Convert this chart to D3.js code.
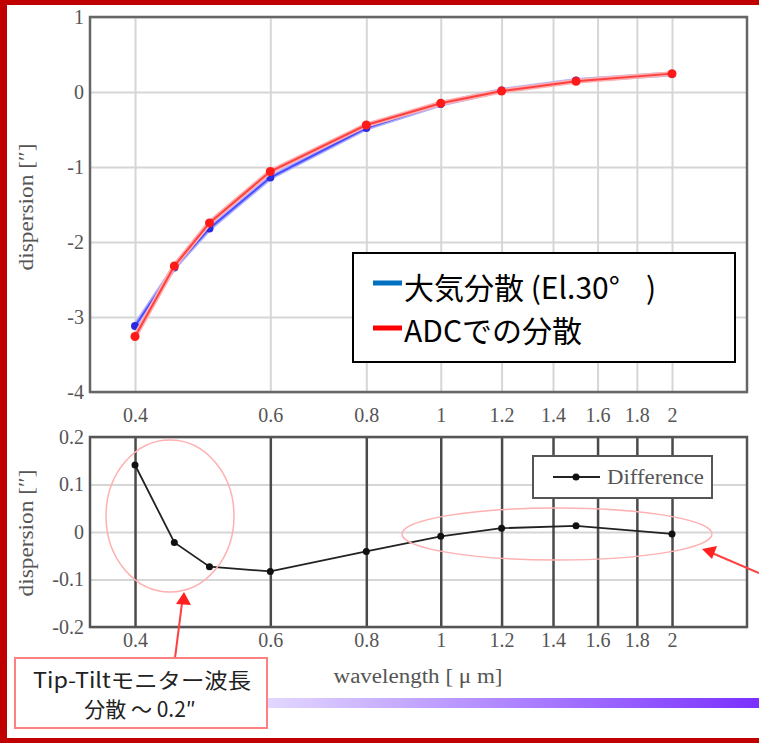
<!DOCTYPE html>
<html lang="ja">
<head>
<meta charset="UTF-8">
<title>dispersion</title>
<script src="https://d3js.org/d3.v7.min.js"></script>
<style>
    body { margin: 0; background: #fff; }
    .tick text { font-family: "Liberation Serif", serif; font-size: 20px; fill: #555; }
    .axis path { display: none; }
</style>
</head>
<body>
<svg width="759" height="743"></svg>
<script>
    // wavelength [um]
    var wavelengths = [0.4, 0.45, 0.5, 0.6, 0.8, 1.0, 1.2, 1.5, 2.0];
    // atmospheric dispersion at El.30 deg ["]
    var atmosphere = [-3.12, -2.34, -1.82, -1.14, -0.48, -0.16, 0.02, 0.155, 0.24];
    // dispersion produced by the ADC ["]
    var adc = [-3.26, -2.32, -1.745, -1.06, -0.44, -0.15, 0.012, 0.142, 0.245];
    // difference (atmosphere - adc)
    var difference = [0.141, -0.022, -0.073, -0.083, -0.041, -0.009, 0.008, 0.013, -0.004];

    var xTicks = [0.4, 0.6, 0.8, 1, 1.2, 1.4, 1.6, 1.8, 2];
    var yTicksTop = [1, 0, -1, -2, -3, -4];
    var yTicksBottom = [0.2, 0.1, 0, -0.1, -0.2];

    var svg = d3.select('svg');
    var defs = svg.append('defs');

    var x = d3.scaleLog()
            .domain([0.3495, 2.504])
            .range([90, 747]);

    var yTop = d3.scaleLinear()
            .domain([-4, 1])
            .range([392, 17]);

    var yBot = d3.scaleLinear()
            .domain([-0.2, 0.2])
            .range([627, 437]);

    var fmtX = function (d) { return String(d); };
    var fmtY = function (d) { return d < 0 ? '-' + Math.abs(d) : d; };

    // ---------- upper panel ----------
    var upper = svg.append('g');

    upper.append('g')
            .attr('class', 'axis')
            .attr('transform', 'translate(0,392)')
            .call(d3.axisBottom(x).tickValues(xTicks).tickFormat(fmtX).tickSize(-375).tickPadding(16))
            .call(function (g) {
                g.selectAll('line').attr('stroke', '#d6d6d6').attr('stroke-width', 2);
            });

    upper.append('g')
            .attr('class', 'axis')
            .attr('transform', 'translate(90,0)')
            .call(d3.axisLeft(yTop).tickValues(yTicksTop).tickSize(-657).tickPadding(6).tickFormat(fmtY))
            .call(function (g) {
                g.selectAll('line').attr('stroke', '#d6d6d6').attr('stroke-width', 2);
            });

    upper.append('rect')
            .attr('x', 90).attr('y', 17).attr('width', 657).attr('height', 375)
            .attr('fill', 'none').attr('stroke', '#666').attr('stroke-width', 2.5);

    var lineTop = function (vals) {
        return d3.line()
                .x(function (d, i) { return x(wavelengths[i]); })
                .y(function (d) { return yTop(d); })(vals);
    };

    upper.append('path').attr('d', lineTop(atmosphere))
            .attr('fill', 'none').attr('stroke', '#aeb0ff').attr('stroke-width', 5);
    upper.append('path').attr('d', lineTop(atmosphere))
            .attr('fill', 'none').attr('stroke', '#4a4cff').attr('stroke-width', 2);
    upper.selectAll('.pb').data(atmosphere).enter().append('circle')
            .attr('cx', function (d, i) { return x(wavelengths[i]); })
            .attr('cy', function (d) { return yTop(d); })
            .attr('r', 4).attr('fill', '#2a2ae0');

    upper.append('path').attr('d', lineTop(adc))
            .attr('fill', 'none').attr('stroke', '#ffb0b0').attr('stroke-width', 5);
    upper.append('path').attr('d', lineTop(adc))
            .attr('fill', 'none').attr('stroke', '#ff4040').attr('stroke-width', 2);
    upper.selectAll('.pr').data(adc).enter().append('circle')
            .attr('cx', function (d, i) { return x(wavelengths[i]); })
            .attr('cy', function (d) { return yTop(d); })
            .attr('r', 4.5).attr('fill', '#ff1a1a');

    svg.append('text')
            .attr('transform', 'translate(33,207) rotate(-90)')
            .attr('text-anchor', 'middle')
            .attr('textLength', 127).attr('lengthAdjust', 'spacingAndGlyphs')
            .style('font-family', '"Liberation Serif", serif').style('font-size', '20px').style('fill', '#555')
            .text('dispersion [″]');

    // legend (upper)
    var leg = svg.append('g');
    leg.append('rect')
            .attr('x', 353).attr('y', 253).attr('width', 382).attr('height', 109)
            .attr('fill', '#fff').attr('stroke', '#000').attr('stroke-width', 2);
    leg.append('line').attr('x1', 373).attr('x2', 402).attr('y1', 283).attr('y2', 283)
            .attr('stroke', '#0070c0').attr('stroke-width', 5);
    leg.append('line').attr('x1', 373).attr('x2', 402).attr('y1', 328).attr('y2', 328)
            .attr('stroke', '#ff0000').attr('stroke-width', 5);
    var legText = leg.append('text')
            .attr('x', 404).attr('y', 299)
            .style('font-family', '"Noto Sans CJK JP", sans-serif').style('font-size', '30px').style('fill', '#000');
    legText.append('tspan').text('大気分散 (El.30°');
    legText.append('tspan').attr('x', 646).text(')');
    leg.append('text')
            .attr('x', 404).attr('y', 342)
            .style('font-family', '"Noto Sans CJK JP", sans-serif').style('font-size', '30px').style('fill', '#000')
            .text('ADCでの分散');

    // ---------- lower panel ----------
    var lower = svg.append('g');

    lower.append('g')
            .attr('class', 'axis')
            .attr('transform', 'translate(90,0)')
            .call(d3.axisLeft(yBot).tickValues(yTicksBottom).tickSize(-657).tickPadding(6).tickFormat(fmtY))
            .call(function (g) {
                g.selectAll('line').attr('stroke', '#d6d6d6').attr('stroke-width', 2);
            });

    lower.append('g')
            .attr('class', 'axis')
            .attr('transform', 'translate(0,627)')
            .call(d3.axisBottom(x).tickValues(xTicks).tickFormat(fmtX).tickSize(-190).tickPadding(6))
            .call(function (g) {
                g.selectAll('line').attr('stroke', '#4a4a4a').attr('stroke-width', 2.5);
            });

    lower.append('rect')
            .attr('x', 90).attr('y', 437).attr('width', 657).attr('height', 190)
            .attr('fill', 'none').attr('stroke', '#555').attr('stroke-width', 2.5);

    var lineBot = d3.line()
            .x(function (d, i) { return x(wavelengths[i]); })
            .y(function (d) { return yBot(d); });

    lower.append('path').attr('d', lineBot(difference))
            .attr('fill', 'none').attr('stroke', '#222').attr('stroke-width', 1.8);
    lower.selectAll('.pd').data(difference).enter().append('circle')
            .attr('cx', function (d, i) { return x(wavelengths[i]); })
            .attr('cy', function (d) { return yBot(d); })
            .attr('r', 3.5).attr('fill', '#111');

    // legend (lower)
    var leg2 = svg.append('g');
    leg2.append('rect')
            .attr('x', 533).attr('y', 456).attr('width', 179).attr('height', 42)
            .attr('fill', '#fff').attr('stroke', '#555').attr('stroke-width', 2);
    leg2.append('line').attr('x1', 553).attr('x2', 600).attr('y1', 477).attr('y2', 477)
            .attr('stroke', '#222').attr('stroke-width', 1.8);
    leg2.append('circle').attr('cx', 576).attr('cy', 477).attr('r', 3.5).attr('fill', '#111');
    leg2.append('text')
            .attr('x', 607).attr('y', 484)
            .attr('textLength', 97).attr('lengthAdjust', 'spacingAndGlyphs')
            .style('font-family', '"Liberation Serif", serif').style('font-size', '20px').style('fill', '#555')
            .text('Difference');

    svg.append('text')
            .attr('transform', 'translate(33,533) rotate(-90)')
            .attr('text-anchor', 'middle')
            .attr('textLength', 127).attr('lengthAdjust', 'spacingAndGlyphs')
            .style('font-family', '"Liberation Serif", serif').style('font-size', '20px').style('fill', '#555')
            .text('dispersion [″]');

    svg.append('text')
            .attr('x', 418).attr('y', 683)
            .attr('text-anchor', 'middle')
            .attr('textLength', 169).attr('lengthAdjust', 'spacingAndGlyphs')
            .style('font-family', '"Liberation Serif", serif').style('font-size', '20px').style('fill', '#555')
            .text('wavelength [ μ m]');

    // ---------- annotations ----------
    var ann = svg.append('g');

    var grad = defs.append('linearGradient').attr('id', 'bar');
    grad.append('stop').attr('offset', '0%').attr('stop-color', '#e2d8ff');
    grad.append('stop').attr('offset', '100%').attr('stop-color', '#7a30ff');
    ann.append('rect')
            .attr('x', 267).attr('y', 698).attr('width', 492).attr('height', 10)
            .attr('fill', 'url(#bar)');

    ann.append('ellipse')
            .attr('cx', 170).attr('cy', 516).attr('rx', 64).attr('ry', 76)
            .attr('fill', 'none').attr('stroke', '#ffb0b0').attr('stroke-width', 1.5);
    ann.append('ellipse')
            .attr('cx', 557).attr('cy', 534).attr('rx', 155).attr('ry', 26)
            .attr('fill', 'none').attr('stroke', '#ffb0b0').attr('stroke-width', 1.5);

    // arrows
    ann.append('line').attr('x1', 175).attr('y1', 658).attr('x2', 182).attr('y2', 603)
            .attr('stroke', '#ff4040').attr('stroke-width', 2);
    ann.append('path').attr('d', 'M184,592 L191,605 L176,604 Z').attr('fill', '#ff2020');
    ann.append('line').attr('x1', 759).attr('y1', 573).attr('x2', 712).attr('y2', 553)
            .attr('stroke', '#ff4040').attr('stroke-width', 2);
    ann.append('path').attr('d', 'M702,549 L717,546 L712,559 Z').attr('fill', '#ff2020');

    ann.append('rect')
            .attr('x', 15).attr('y', 658).attr('width', 252).attr('height', 70)
            .attr('fill', '#fff').attr('stroke', '#ff8080').attr('stroke-width', 2);
    ann.append('text')
            .attr('x', 142).attr('y', 688)
            .attr('text-anchor', 'middle')
            .attr('textLength', 218).attr('lengthAdjust', 'spacingAndGlyphs')
            .style('font-family', '"Noto Sans CJK JP", sans-serif').style('font-size', '21px')
            .style('fill', '#222')
            .text('Tip-Tiltモニター波長');
    ann.append('text')
            .attr('x', 140).attr('y', 717)
            .attr('text-anchor', 'middle')
            .style('font-family', '"Noto Sans CJK JP", sans-serif').style('font-size', '21px')
            .style('fill', '#222')
            .text('分散 ～ 0.2″');

    // red frame
    svg.append('rect').attr('x', 0).attr('y', 0).attr('width', 759).attr('height', 5).attr('fill', '#c00000');
    svg.append('rect').attr('x', 0).attr('y', 0).attr('width', 7).attr('height', 743).attr('fill', '#c00000');
    svg.append('rect').attr('x', 0).attr('y', 738).attr('width', 759).attr('height', 5).attr('fill', '#c00000');
</script>
</body>
</html>
